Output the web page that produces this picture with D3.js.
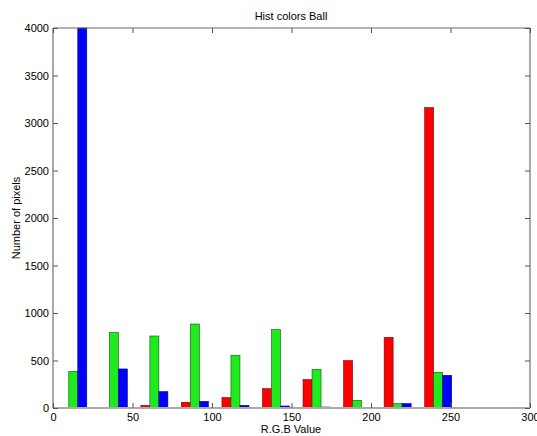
<!DOCTYPE html>
<html><head><meta charset="utf-8">
<script src="https://cdn.jsdelivr.net/npm/d3@7"></script>
<style>body{margin:0;background:#fff}svg{display:block}text{font-family:"Liberation Sans",Arial,sans-serif;fill:#000}</style>
</head><body><svg id="c" width="537" height="436"></svg>
<script>
const binCenters = [12.75, 38.25, 63.75, 89.25, 114.75, 140.25, 165.75, 191.25, 216.75, 242.25];
const redValues   = [0, 5, 28, 60, 109, 204, 299, 499, 744, 3162];
const greenValues = [386, 794, 758, 884, 555, 825, 407, 81, 46, 376];
const blueValues  = [4000, 411, 172, 70, 28, 21, 10, 3, 46, 344];
const xTicks = [0, 50, 100, 150, 200, 250, 300];
const yTicks = [0, 500, 1000, 1500, 2000, 2500, 3000, 3500, 4000];
const seriesNames = ["R", "G", "B"];
const seriesColors = ["#ff0000", "#1eea1e", "#0000ff"];
const seriesEdges = ["#7a0000", "#0a5a0a", "#00007a"];

const svg = d3.select("#c");
const m = {l: 53, r: 530, t: 28, b: 408};
const x = d3.scaleLinear().domain([0, 300]).range([m.l, m.r]);
const y = d3.scaleLinear().domain([0, 4000]).range([m.b, m.t]);
const binStep = 25.5;
const bw = binStep * 0.222;

const series = [redValues, greenValues, blueValues];
series.forEach((vals, si) => {
  svg.append("g").selectAll("rect").data(vals).join("rect")
    .attr("x", (d, i) => x(binCenters[i] + (si - 1.5) * bw))
    .attr("width", x(bw) - x(0))
    .attr("y", d => y(d))
    .attr("height", d => y(0) - y(d))
    .attr("fill", seriesColors[si])
    .attr("stroke", seriesEdges[si])
    .attr("stroke-width", 0.6);
});

// box
svg.append("line").attr("x1", m.l).attr("x2", m.r).attr("y1", m.t).attr("y2", m.t).attr("stroke", "#666").attr("stroke-width", 1);
svg.append("line").attr("x1", m.r).attr("x2", m.r).attr("y1", m.t).attr("y2", m.b).attr("stroke", "#aaa").attr("stroke-width", 2);
svg.append("line").attr("x1", m.l).attr("x2", m.l).attr("y1", m.t).attr("y2", m.b).attr("stroke", "#aaa").attr("stroke-width", 2);
svg.append("line").attr("x1", m.l).attr("x2", m.r).attr("y1", m.b).attr("y2", m.b).attr("stroke", "#aaa").attr("stroke-width", 2);

// axes
const fmt = d3.format("d");
const xb = svg.append("g").attr("transform", `translate(0,${m.b})`)
  .call(d3.axisBottom(x).tickValues(xTicks).tickSizeInner(-5).tickSizeOuter(0).tickPadding(5).tickFormat(fmt));
const xt = svg.append("g").attr("transform", `translate(0,${m.t})`)
  .call(d3.axisTop(x).tickValues(xTicks).tickSizeInner(-5).tickSizeOuter(0).tickFormat(""));
const yl = svg.append("g").attr("transform", `translate(${m.l},0)`)
  .call(d3.axisLeft(y).tickValues(yTicks).tickSizeInner(-5).tickSizeOuter(0).tickPadding(4).tickFormat(fmt));
const yr = svg.append("g").attr("transform", `translate(${m.r},0)`)
  .call(d3.axisRight(y).tickValues(yTicks).tickSizeInner(-5).tickSizeOuter(0).tickFormat(""));
[xb, xt, yl, yr].forEach(g => {
  g.select(".domain").remove();
  g.selectAll(".tick line").attr("stroke", "#555");
  g.selectAll("text").attr("font-size", 11).attr("font-family", "Liberation Sans, Arial, sans-serif").attr("fill", "#000");
});

svg.append("text").attr("x", 291).attr("y", 20).attr("text-anchor", "middle").attr("font-size", 11).text("Hist colors Ball");
svg.append("text").attr("x", 291).attr("y", 433).attr("text-anchor", "middle").attr("font-size", 11).text("R.G.B Value");
svg.append("text").attr("transform", "translate(20,218) rotate(-90)").attr("text-anchor", "middle").attr("font-size", 11).text("Number of pixels");
</script></body></html>
